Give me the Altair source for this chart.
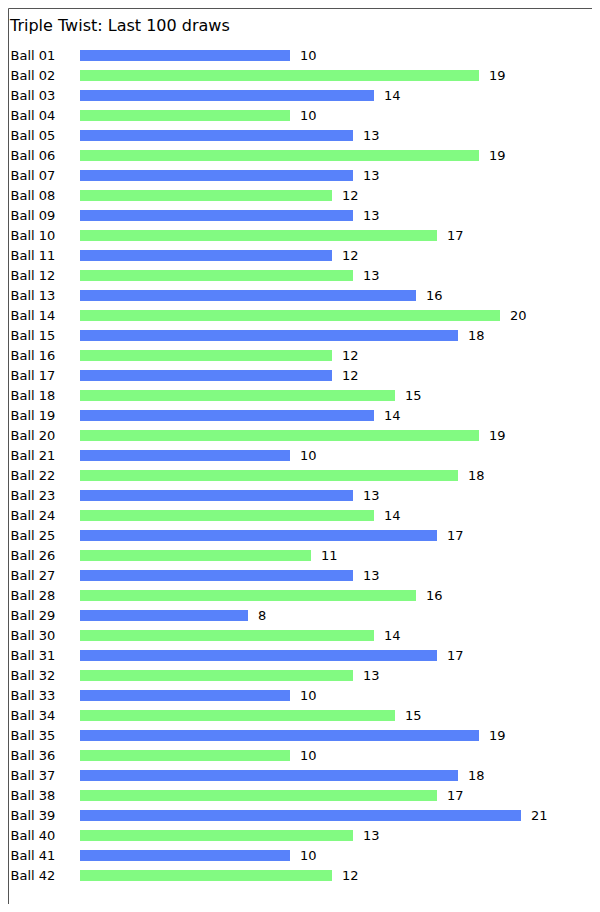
import altair as alt
import pandas as pd

balls = [f"Ball {i:02d}" for i in range(1, 43)]
counts = [10, 19, 14, 10, 13, 19, 13, 12, 13, 17,
          12, 13, 16, 20, 18, 12, 12, 15, 14, 19,
          10, 18, 13, 14, 17, 11, 13, 16, 8, 14,
          17, 13, 10, 15, 19, 10, 18, 17, 21, 13,
          10, 12]
colors = ["#5882FA" if i % 2 == 0 else "#82FA82" for i in range(42)]

df = pd.DataFrame({"ball": balls, "count": counts, "color": colors})

W, H = 584, 896
FONT = "DejaVu Sans"

yenc = alt.Y(
    "ball:N", sort=balls,
    scale=alt.Scale(paddingInner=0.45, paddingOuter=0, range=[42, 873]),
    axis=alt.Axis(title=None, ticks=False, tickSize=0, domain=False, grid=False,
                  labelAlign="left", labelPadding=0, offset=-2,
                  labelFont=FONT, labelFontSize=13, labelColor="#000000",
                  labelBaseline="middle"),
)
xscale = alt.Scale(domain=[-72 / 21, (W - 72) / 21], zero=False, nice=False)

bars = alt.Chart(df).mark_bar().encode(
    x=alt.X("count:Q", scale=xscale, axis=None),
    x2=alt.datum(0),
    y=yenc,
    color=alt.Color("color:N", scale=None, legend=None),
)
labels = alt.Chart(df).mark_text(
    align="left", baseline="middle", dx=10, font=FONT, fontSize=13, color="#000000"
).encode(
    x=alt.X("count:Q", scale=xscale, axis=None),
    y=alt.Y("ball:N", sort=balls),
    text="count:Q",
)

chart = alt.layer(bars, labels).properties(
    width=W, height=H,
    background="white",
    autosize=alt.AutoSizeParams(type="none"),
    padding={"left": 0, "top": 0, "right": 0, "bottom": 0},
    title=alt.TitleParams("Triple Twist: Last 100 draws", anchor="start", offset=-39,
                          baseline="alphabetic", dx=2, font=FONT, fontSize=16,
                          fontWeight="normal", color="#000000"),
).configure_view(stroke="#555555", strokeWidth=1)

chart.save("out.html", embed_options={"renderer": "svg", "actions": False})
